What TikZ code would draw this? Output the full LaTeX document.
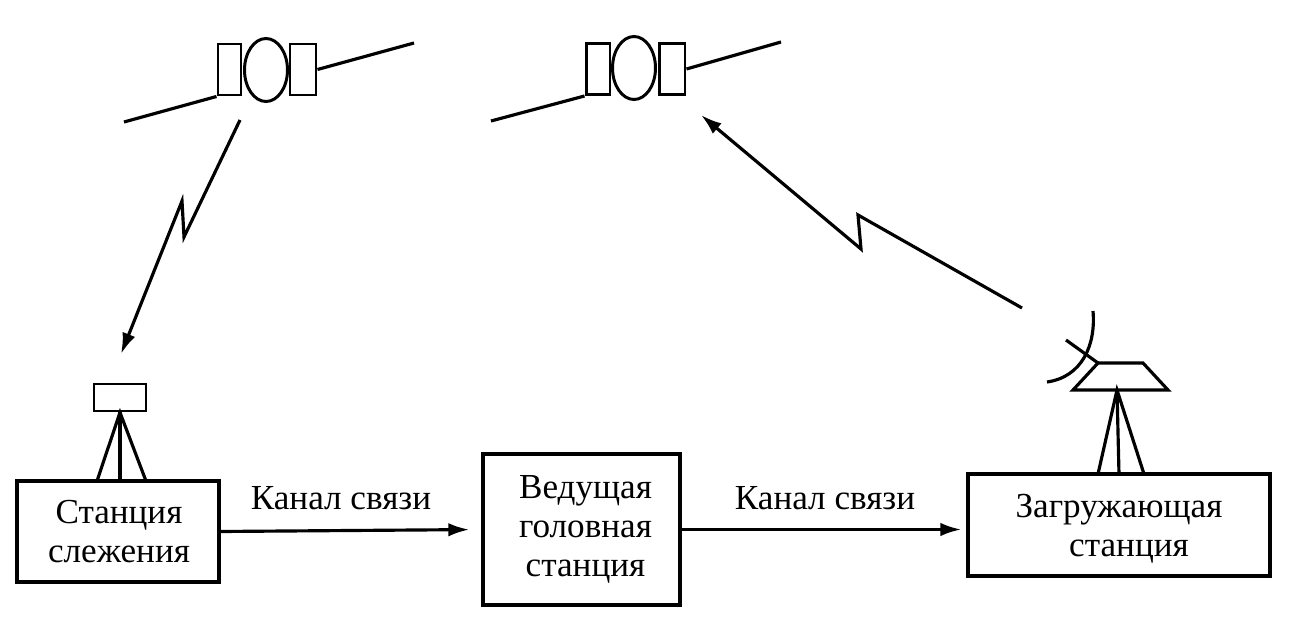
\documentclass[tikz,border=0pt]{standalone}
\usepackage{fontspec}
\setmainfont{Liberation Serif}
\usetikzlibrary{arrows.meta,shapes.geometric}
\tikzset{
	station/.style={rectangle,draw,line width=1.9pt,inner sep=0pt,align=center,font=\fontsize{20}{22.3}\selectfont},
	part/.style={rectangle,draw,line width=1.7pt,inner sep=0pt},
	body/.style={ellipse,draw,line width=1.7pt,inner sep=0pt,minimum width=0.86cm,minimum height=1.26cm},
	wire/.style={line width=1.8pt},
	link/.style={line width=1.8pt,-{Latex[length=0.42cm,width=0.27cm]}},
	chan/.style={font=\fontsize{20}{22}\selectfont,inner sep=0pt}
}
\begin{document}
\begin{tikzpicture}[x=0.02cm,y=-0.02cm]
	\useasboundingbox (0,0) rectangle (1289,625);
%	satellites
	\path (229.5,69.5) node(sat1_l) [part,minimum width=0.46cm,minimum height=1.02cm] {};
	\path (303,69.5) node(sat1_r) [part,minimum width=0.52cm,minimum height=1.02cm] {};
	\path (266,70) node(sat1_c) [body] {};
	\path (124,122) coordinate (sat1_a);
	\path (414,43) coordinate (sat1_b);
	\draw[wire] (sat1_a) -- (sat1_l.south west);
	\draw[wire] (sat1_r.east) -- (sat1_b);
	\path (598,69) node(sat2_l) [part,minimum width=0.48cm,minimum height=1.02cm] {};
	\path (672,69) node(sat2_r) [part,minimum width=0.52cm,minimum height=1.02cm] {};
	\path (634,68) node(sat2_c) [body] {};
	\path (491,121) coordinate (sat2_a);
	\path (781,42) coordinate (sat2_b);
	\draw[wire] (sat2_a) -- (sat2_l.south west);
	\draw[wire] (sat2_r.east) -- (sat2_b);
%	stations
	\path (118,531.5) node(track) [station,minimum width=4.04cm,minimum height=2.02cm] {\hspace{0.04cm}Станция\\\hspace{0.04cm}слежения};
	\path (581.5,529.5) node(master) [station,minimum width=3.94cm,minimum height=3.02cm] {\hspace{0.16cm}Ведущая\\\hspace{0.16cm}головная\\\hspace{0.16cm}станция};
	\path (1119,525) node(upload) [station,minimum width=6.04cm,minimum height=2.04cm] {\rule{0pt}{0.62cm}Загружающая\\\hspace{0.4cm}станция};
	\path (341,498) node(chan1) [chan] {Канал связи};
	\path (825,498) node(chan2) [chan] {Канал связи};
	\draw[link,shorten >=0.24cm] (track.east) -- (master.west);
	\draw[link,shorten >=0.1cm] (master.east) -- (master.east -| upload.west);
%	tracking antenna
	\path (120,397.5) node(dish1) [part,minimum width=1.04cm,minimum height=0.54cm] {};
	\path (97,481) coordinate (leg1_a);
	\path (120,481) coordinate (leg1_b);
	\path (146,481) coordinate (leg1_c);
	\draw[wire] (leg1_a) -- (dish1.south) -- (leg1_c);
	\draw[wire] (dish1.south) -- (leg1_b);
%	upload antenna
	\path (1098,363) coordinate (top_l);
	\path (1143,363) coordinate (top_r);
	\path (1168,390) coordinate (bot_r);
	\path (1073,390) coordinate (bot_l);
	\path (1117,390) coordinate (apex);
	\path (1098,474) coordinate (leg2_a);
	\path (1119,474) coordinate (leg2_b);
	\path (1144,474) coordinate (leg2_c);
	\draw[wire] (top_l) -- (top_r) -- (bot_r) -- (bot_l) -- cycle;
	\draw[wire] (leg2_a) -- (apex) -- (leg2_c);
	\draw[wire] (apex) -- (leg2_b);
	\path (1093,311) coordinate (refl_a);
	\path (1047,382) coordinate (refl_b);
	\path (1066,340) coordinate (feed);
	\draw[wire] (refl_a) .. controls (1096,345) and (1082,377) .. (refl_b);
	\draw[wire] (feed) -- (top_l);
%	radio links
	\path (240,120) coordinate (down_a);
	\path (184,237) coordinate (down_b);
	\path (182,201) coordinate (down_c);
	\path (121,354) coordinate (down_d);
	\draw[link] (down_a) -- (down_b) -- (down_c) -- (down_d);
	\path (1022,308) coordinate (up_a);
	\path (858,215) coordinate (up_b);
	\path (861,249) coordinate (up_c);
	\path (701,115) coordinate (up_d);
	\draw[link] (up_a) -- (up_b) -- (up_c) -- (up_d);
\end{tikzpicture}
\end{document}
